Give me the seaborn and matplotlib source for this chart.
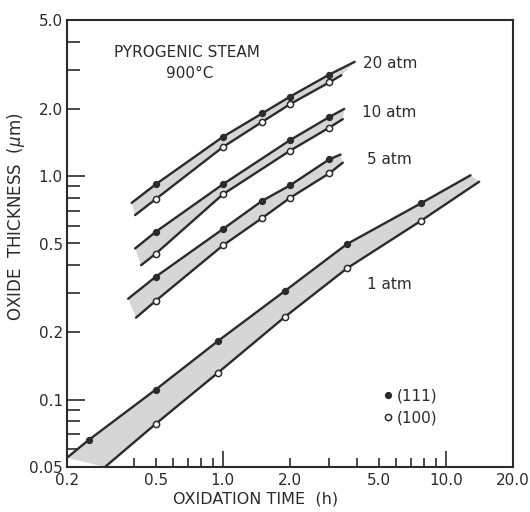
import matplotlib
matplotlib.use("Agg")
import matplotlib.pyplot as plt
import seaborn as sns
from matplotlib.lines import Line2D
from matplotlib.ticker import FixedLocator, FixedFormatter, NullFormatter

# ---------------- data ----------------
# 1 atm
t1_111 = [0.25, 0.5, 0.95, 1.9, 3.6, 7.7]
d1_111 = [0.066, 0.111, 0.183, 0.307, 0.497, 0.755]
t1_100 = [0.5, 0.95, 1.9, 3.6, 7.7]
d1_100 = [0.078, 0.132, 0.235, 0.387, 0.63]
line1_111_t = [0.2, 12.9]
line1_111_d = [0.055, 1.01]
line1_100_t = [0.296, 14.1]
line1_100_d = [0.05, 0.945]

# 5 atm
t5 = [0.5, 1.0, 1.5, 2.0, 3.0]
d5_111 = [0.355, 0.58, 0.776, 0.91, 1.19]
d5_100 = [0.277, 0.49, 0.65, 0.80, 1.03]
line5_111_t = [0.376, 3.37]
line5_111_d = [0.283, 1.25]
line5_100_t = [0.408, 3.45]
line5_100_d = [0.233, 1.15]

# 10 atm
t10 = [0.5, 1.0, 2.0, 3.0]
d10_111 = [0.564, 0.92, 1.45, 1.84]
d10_100 = [0.45, 0.83, 1.30, 1.65]
line10_111_t = [0.404, 3.5]
line10_111_d = [0.475, 2.0]
line10_100_t = [0.43, 3.45]
line10_100_d = [0.40, 1.8]

# 20 atm
t20 = [0.5, 1.0, 1.5, 2.0, 3.0]
d20_111 = [0.92, 1.50, 1.91, 2.27, 2.85]
d20_100 = [0.79, 1.35, 1.75, 2.10, 2.63]
line20_111_t = [0.39, 3.9]
line20_111_d = [0.76, 3.25]
line20_100_t = [0.404, 3.4]
line20_100_d = [0.67, 2.83]

band_labels = ["1 atm", "5 atm", "10 atm", "20 atm"]

x_major = [0.2, 0.5, 1.0, 2.0, 5.0, 10.0, 20.0]
x_major_labels = ["0.2", "0.5", "1.0", "2.0", "5.0", "10.0", "20.0"]
x_minor = [0.4, 0.6, 0.7, 0.8, 0.9, 3, 4, 6, 7, 8, 9]
y_major = [0.05, 0.1, 0.2, 0.5, 1.0, 2.0, 5.0]
y_major_labels = ["0.05", "0.1", "0.2", "0.5", "1.0", "2.0", "5.0"]
y_minor = [0.06, 0.07, 0.08, 0.09, 0.3, 0.4, 0.6, 0.7, 0.8, 0.9, 3, 4]

# ---------------- style ----------------
sns.set_theme(style="white")
plt.rcParams['font.family'] = ['DejaVu Sans']
INK = "#2b2b2b"
SHADE = "#d6d6d6"

fig = plt.figure(figsize=(5.3, 5.12), dpi=100)
fig.patch.set_facecolor("white")
ax = fig.add_axes([67 / 530, 45 / 512, 446 / 530, 447 / 512])
ax.set_xscale("log")
ax.set_yscale("log")

bands = [
    (t1_111, d1_111, t1_100, d1_100, line1_111_t, line1_111_d, line1_100_t, line1_100_d),
    (t5, d5_111, t5, d5_100, line5_111_t, line5_111_d, line5_100_t, line5_100_d),
    (t10, d10_111, t10, d10_100, line10_111_t, line10_111_d, line10_100_t, line10_100_d),
    (t20, d20_111, t20, d20_100, line20_111_t, line20_111_d, line20_100_t, line20_100_d),
]

for (ta, da, tb, db, lat, lad, lbt, lbd) in bands:
    ux = [lat[0]] + list(ta) + [lat[1]]
    uy = [lad[0]] + list(da) + [lad[1]]
    lx = [lbt[0]] + list(tb) + [lbt[1]]
    ly = [lbd[0]] + list(db) + [lbd[1]]
    ax.fill(ux + lx[::-1], uy + ly[::-1], color=SHADE, lw=0, zorder=1)
    sns.lineplot(x=ux, y=uy, ax=ax, color=INK, lw=1.7, estimator=None, zorder=2)
    sns.lineplot(x=lx, y=ly, ax=ax, color=INK, lw=1.7, estimator=None, zorder=2)
    sns.scatterplot(x=ta, y=da, ax=ax, color=INK, edgecolor=INK, s=18,
                    linewidth=1.0, zorder=3)
    sns.scatterplot(x=tb, y=db, ax=ax, color="white", edgecolor=INK, s=20,
                    linewidth=1.1, zorder=3)

ax.set_xlim(0.2, 20)
ax.set_ylim(0.05, 5)

# ---------------- ticks ----------------
ax.xaxis.set_major_locator(FixedLocator(x_major))
ax.xaxis.set_major_formatter(FixedFormatter(x_major_labels))
ax.xaxis.set_minor_locator(FixedLocator(x_minor))
ax.xaxis.set_minor_formatter(NullFormatter())
ax.yaxis.set_major_locator(FixedLocator(y_major))
ax.yaxis.set_major_formatter(FixedFormatter(y_major_labels))
ax.yaxis.set_minor_locator(FixedLocator(y_minor))
ax.yaxis.set_minor_formatter(NullFormatter())

ax.tick_params(axis="both", which="both", direction="in", bottom=True, left=True,
               top=False, right=False, color=INK, width=1.2, labelcolor=INK,
               labelsize=11)
ax.tick_params(axis="x", which="both", length=6.5, pad=4)
ax.tick_params(axis="y", which="both", length=9.4, pad=3)

for tick, loc in zip(ax.xaxis.get_major_ticks(), x_major):
    if loc in (1.0, 10.0):
        tick.tick1line.set_markersize(11.5)
for tick, loc in zip(ax.yaxis.get_major_ticks(), y_major):
    if loc in (0.1, 1.0):
        tick.tick1line.set_markersize(13)

for sp in ax.spines.values():
    sp.set_color(INK)
    sp.set_linewidth(1.5)

# ---------------- labels ----------------
ax.set_xlabel("OXIDATION TIME  (h)", fontsize=11.5, color=INK)
ax.xaxis.set_label_coords((256 - 67) / 446, -0.054)
ax.set_ylabel("OXIDE  THICKNESS  ($\\mu$m)", fontsize=12, color=INK)
ax.yaxis.set_label_coords(-0.09, 0.56)

ax.text(0.269, 0.928, "PYROGENIC STEAM", transform=ax.transAxes, fontsize=11,
        ha="center", va="center", color=INK)
ax.text(0.274, 0.881, "900°C", transform=ax.transAxes, fontsize=11,
        ha="center", va="center", color=INK)

label_pos = {"20 atm": (0.664, 0.902), "10 atm": (0.661, 0.792),
             "5 atm": (0.673, 0.689), "1 atm": (0.673, 0.409)}
for lab in band_labels:
    x, y = label_pos[lab]
    ax.text(x, y, lab, transform=ax.transAxes, fontsize=11, ha="left",
            va="center", color=INK)

handles = [
    Line2D([], [], ls="none", marker="o", ms=4.2, color=INK, mec=INK),
    Line2D([], [], ls="none", marker="o", ms=4.5, mfc="white", mec=INK, mew=1.1),
]
leg = ax.legend(handles, ["(111)", "(100)"], loc="upper left",
                bbox_to_anchor=(0.705, 0.175), frameon=False, fontsize=11,
                handlelength=0.8, handletextpad=0.2, labelspacing=0.45,
                borderpad=0, borderaxespad=0)
for t in leg.get_texts():
    t.set_color(INK)

fig.savefig("out.png", dpi=100, facecolor="white")
